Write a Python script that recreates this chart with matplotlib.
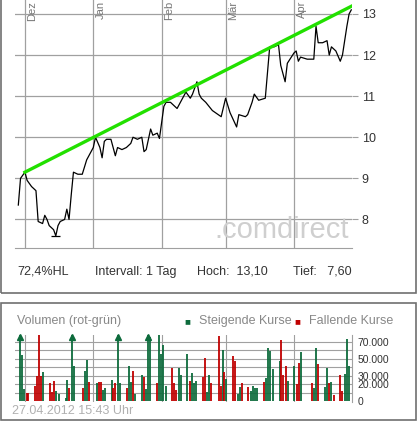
import matplotlib
matplotlib.use("Agg")
import matplotlib.pyplot as plt
from matplotlib.patches import Rectangle

GREEN, RED, GRID, TXT = "#0d6b3c", "#c00000", "#a0a0a0", "#333333"
plt.rcParams.update({"font.family": "Liberation Sans", "font.size": 8})

# price: days since 2011-12-01, close
days = [-3, -2, 0, 1, 3, 5, 6, 8, 9, 10, 11, 13, 14, 15, 16, 18, 19, 20, 21, 22, 24, 26,
        28, 29, 31, 32, 34, 35, 36, 37, 39, 41, 42, 44, 46, 48, 49, 51, 53, 54, 55, 57,
        58, 60, 61, 63, 64, 66, 69, 71, 73, 75, 76, 78, 79, 80, 82, 85, 89, 91, 93, 96,
        97, 100, 101, 103, 104, 106, 109, 111, 113, 115, 116, 118, 119, 122, 123, 124,
        125, 128, 131, 132, 133, 135, 137, 138, 139, 141, 143, 144, 146, 147, 148]
price = [8.35, 9.0, 9.15, 8.95, 8.8, 8.7, 7.95, 7.9, 8.1, 8.0, 7.85, 7.75, 7.6, 7.85,
         7.95, 8.0, 8.25, 8.0, 8.6, 9.15, 9.1, 9.1, 9.45, 9.55, 9.75, 10.0, 9.75, 9.5,
         9.9, 9.95, 9.95, 9.55, 9.75, 9.7, 9.75, 9.85, 10.0, 9.95, 10.0, 9.65, 9.7, 10.2,
         10.05, 10.1, 9.97, 10.75, 10.85, 10.85, 10.7, 10.9, 11.1, 10.95, 11.05, 11.35,
         11.05, 10.95, 10.85, 10.65, 10.5, 10.95, 10.6, 10.25, 10.55, 10.5, 10.55, 10.85,
         11.05, 10.9, 10.95, 12.2, 12.2, 12.25, 11.75, 11.35, 11.8, 12.05, 12.1, 11.85,
         11.95, 11.9, 11.9, 12.7, 12.3, 12.3, 12.35, 12.0, 12.2, 12.1, 11.85, 12.0, 12.7,
         13.0, 13.1]
trend_days = [0, 148.5]
trend_price = [9.15, 13.2]
low_day, low_price = 14, 7.6

month_days = [0, 31, 62, 91, 122]
month_labels = ["Dez", "Jan", "Feb", "Mär", "Apr"]

# volume (thousands), G rising / R falling
vol_days = [-2.3, -1.5, -0.3, 0.8, 1.5, 4.5, 5.6, 6.5, 7.3, 8.3, 11.3, 12.4, 13.3, 14.0,
            15.6, 18.4, 19.3, 20.1, 21.3, 22.2, 26.4, 27.3, 28.2, 29.2, 32.5, 33.4, 34.3,
            35.2, 36.1, 39.3, 40.0, 40.9, 42.0, 43.1, 46.1, 47.0, 48.0, 49.1, 50.0, 53.3,
            54.1, 54.8, 55.9, 56.8, 60.0, 60.9, 61.8, 62.7, 64.0, 66.8, 67.7, 68.6, 69.9,
            70.8, 73.6, 74.8, 75.7, 76.6, 77.6, 80.8, 81.7, 82.6, 83.5, 84.4, 87.8, 88.7,
            89.6, 90.5, 91.4, 94.4, 95.3, 96.7, 97.6, 98.5, 101.2, 102.3, 103.5, 104.4,
            105.3, 108.5, 109.4, 110.3, 111.2, 112.5, 115.6, 116.3, 117.2, 118.3, 119.3,
            122.2, 123.3, 124.3, 125.2, 130.2, 131.1, 132.0, 132.9, 136.3, 137.2, 138.1,
            139.0, 140.2, 143.1, 144.0, 145.2, 146.1, 147.0]
vol = [95, 54, 14, 10, 10, 18, 30, 78, 30, 34, 21, 11, 24, 12, 8, 4, 25, 16, 95, 41, 15,
       36, 48, 23, 21, 23, 23, 13, 16, 25, 16, 22, 95, 22, 16, 42, 23, 35, 9, 31, 28, 14,
       95, 75, 21, 80, 56, 66, 18, 39, 21, 13, 39, 31, 55, 24, 33, 21, 24, 29, 51, 11, 31,
       22, 77, 18, 60, 34, 26, 53, 47, 8, 17, 21, 17, 12, 18, 16, 16, 23, 27, 63, 59, 38,
       47, 72, 31, 41, 24, 41, 20, 45, 58, 21, 16, 63, 44, 17, 39, 22, 23, 7, 31, 12, 32,
       73, 42]
vol_dir = ("GGGRRRRRRG" "RRRGGGGRGG" "RGGRGRRGGG" "RRGGRGGRGG" "RGGGRGGGGR" "RRGGGRGGGR"
           "RGGRRRGRGR" "RGGRRGGGGR" "GGGGGRRRGG" "RRGRGGRGGR" "GRRRGGG")
vol_ticks = [0, 20, 30, 50, 70]

fig = plt.figure(figsize=(4.17, 4.25), dpi=100)
for y0, h in [(132 / 425, 300 / 425), (5 / 425, 117 / 425)]:
    fig.patches.append(Rectangle((0.002, y0), 0.995, h, transform=fig.transFigure,
                                 fill=False, edgecolor="#707070", lw=1.2))

XL = (-4.5, 148.3)
ax = fig.add_axes([0.036, 0.416, 0.808, 0.584])
ax.set_xlim(*XL)
ax.set_ylim(7.3, 13.34)
for d in month_days:
    ax.axvline(d, color=GRID, lw=0.9, zorder=0)
for v in range(8, 14):
    ax.axhline(v, color=GRID, lw=0.9, zorder=0)
ax.plot(days, price, color="black", lw=0.9, zorder=2)
ax.hlines(low_price, low_day - 2, low_day + 2, color="black", lw=0.9)
ax.plot(trend_days, trend_price, color="#22e000", lw=2.4, zorder=3)
for d, lab in zip(month_days, month_labels):
    ax.text(d + 1.2, 13.32, lab, rotation=90, ha="left", va="top", color="#777777", fontsize=8)
ax.text(147, 7.75, ".comdirect", ha="right", va="center", fontsize=21, color="#cfcfcf", zorder=1)
ax.yaxis.tick_right()
ax.set_yticks(range(8, 14))
ax.tick_params(axis="y", length=4, color=GRID, labelcolor=TXT, labelsize=9, pad=3)
ax.set_xticks([])
for s in ["top", "left", "right"]:
    ax.spines[s].set_visible(False)
ax.spines["bottom"].set_color(GRID)

fs = 9
fig.text(17 / 417, 1 - 272 / 425, "72,4%HL", fontsize=fs, color=TXT, va="center")
fig.text(95 / 417, 1 - 272 / 425, "Intervall: 1 Tag", fontsize=fs, color=TXT, va="center")
fig.text(197 / 417, 1 - 272 / 425, "Hoch:  13,10", fontsize=fs, color=TXT, va="center")
fig.text(293 / 417, 1 - 272 / 425, "Tief:   7,60", fontsize=fs, color=TXT, va="center")

vx = fig.add_axes([0.036, 0.054, 0.808, 0.158])
vx.set_xlim(*XL)
top = 78
vx.set_ylim(-1, top)
for d in month_days:
    vx.axvline(d, color=GRID, lw=0.8, zorder=0)
for v in range(10, 80, 10):
    vx.axhline(v, color=GRID, lw=0.8, zorder=0)
for d, v, c in zip(vol_days, vol, vol_dir):
    col = GREEN if c == "G" else RED
    vx.vlines(d, 0, min(v, top), color=col, lw=1.3, zorder=2)
    if v > 80:
        vx.plot(d, top - 2, marker="^", color=col, ms=5, clip_on=False, zorder=3)
vx.yaxis.tick_right()
vx.set_yticks(vol_ticks)
vx.set_yticklabels(["0", "20.000", "30.000", "50.000", "70.000"])
vx.tick_params(axis="y", length=0, labelcolor=TXT, labelsize=7.5, pad=4)
vx.set_xticks([])
for s in ["top", "left", "bottom"]:
    vx.spines[s].set_visible(False)
vx.spines["right"].set_color(GRID)

fig.text(17 / 417, 1 - 321 / 425, "Volumen (rot-grün)", fontsize=fs, color="#888888", va="center")
fig.text(184 / 417, 1 - 321 / 425, "■", fontsize=7, color=GREEN, va="center")
fig.text(199 / 417, 1 - 321 / 425, "Steigende Kurse", fontsize=fs, color="#888888", va="center")
fig.text(294 / 417, 1 - 321 / 425, "■", fontsize=7, color=RED, va="center")
fig.text(309 / 417, 1 - 321 / 425, "Fallende Kurse", fontsize=fs, color="#888888", va="center")
fig.text(12 / 417, 1 - 411 / 425, "27.04.2012 15:43 Uhr", fontsize=fs, color="#b0b0b0", va="center")

fig.savefig("out.png", dpi=100)
